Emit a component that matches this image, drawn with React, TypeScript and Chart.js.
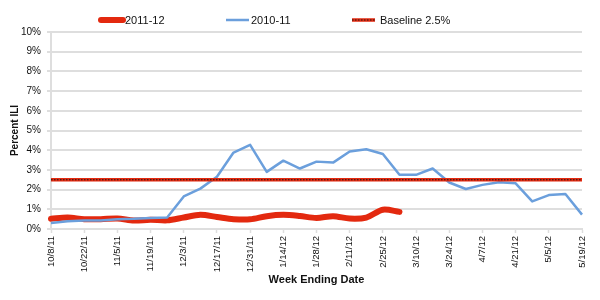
import { useEffect, useRef } from 'react';
import { Chart, registerables } from 'chart.js';

Chart.register(...registerables);

// Week ending dates, 2011-12 season
const weeks = [
  '10/8/11', '10/15/11', '10/22/11', '10/29/11', '11/5/11', '11/12/11', '11/19/11', '11/26/11',
  '12/3/11', '12/10/11', '12/17/11', '12/24/11', '12/31/11', '1/7/12', '1/14/12', '1/21/12',
  '1/28/12', '2/4/12', '2/11/12', '2/18/12', '2/25/12', '3/3/12', '3/10/12', '3/17/12',
  '3/24/12', '3/31/12', '4/7/12', '4/14/12', '4/21/12', '4/28/12', '5/5/12', '5/12/12', '5/19/12',
];

// Percent of visits for influenza-like illness
const season2011 = [
  0.52, 0.58, 0.5, 0.5, 0.53, 0.43, 0.47, 0.44, 0.58, 0.72, 0.61, 0.5, 0.49, 0.65, 0.72, 0.66,
  0.56, 0.65, 0.53, 0.58, 0.98, 0.87,
];
const season2010 = [
  0.3, 0.39, 0.43, 0.43, 0.5, 0.52, 0.56, 0.58, 1.65, 2.05, 2.65, 3.88, 4.27, 2.9, 3.47, 3.07,
  3.42, 3.37, 3.93, 4.05, 3.81, 2.75, 2.75, 3.07, 2.36, 2.03, 2.24, 2.37, 2.32, 1.4, 1.72, 1.78, 0.73,
];
const BASELINE = 2.5;
const baselineEnds = [weeks[0], weeks[weeks.length - 1]];

const RED = '#e3290f';
const BLUE = '#6b9fdc';
const GRID = '#dedede';
const FONT = '"Liberation Sans", Arial, sans-serif';

// Legend drawn as line samples followed by the series names
const lineLegend = {
  id: 'lineLegend',
  afterDraw(chart: any, _args: any, opts: any) {
    const { ctx } = chart;
    const y = opts.y;
    ctx.save();
    ctx.font = `11px ${FONT}`;
    ctx.textBaseline = 'middle';
    ctx.textAlign = 'left';
    for (const item of opts.items) {
      const ds = chart.data.datasets[item.dataset];
      ctx.beginPath();
      ctx.moveTo(item.x, y);
      ctx.lineTo(item.x + item.w, y);
      ctx.strokeStyle = ds.borderColor;
      ctx.lineWidth = ds.borderWidth;
      ctx.lineCap = ds.borderCapStyle || 'butt';
      ctx.setLineDash([]);
      ctx.stroke();
      if (item.overlay !== undefined) {
        const ov = chart.data.datasets[item.overlay];
        ctx.beginPath();
        ctx.moveTo(item.x, y);
        ctx.lineTo(item.x + item.w, y);
        ctx.strokeStyle = ov.borderColor;
        ctx.lineWidth = ov.borderWidth;
        ctx.lineCap = 'butt';
        ctx.setLineDash(ov.borderDash);
        ctx.stroke();
        ctx.setLineDash([]);
      }
      ctx.fillStyle = '#111';
      ctx.fillText(ds.label, item.x + item.w + item.gap, y + 0.5);
    }
    ctx.restore();
  },
};

export default function App() {
  const canvasRef = useRef<HTMLCanvasElement | null>(null);

  useEffect(() => {
    document.body.style.margin = '0';
    const canvas = canvasRef.current;
    if (!canvas) return;

    const chart = new Chart(canvas, {
      type: 'line',
      data: {
        labels: weeks,
        datasets: [
          {
            label: '2011-12',
            data: season2011,
            borderColor: RED,
            backgroundColor: RED,
            borderWidth: 6,
            borderCapStyle: 'round',
            borderJoinStyle: 'round',
            tension: 0.3,
            pointRadius: 0,
            order: 4,
          },
          {
            label: '2010-11',
            data: season2010,
            borderColor: BLUE,
            backgroundColor: BLUE,
            borderWidth: 2.5,
            borderJoinStyle: 'round',
            tension: 0,
            pointRadius: 0,
            order: 3,
          },
          {
            label: 'Baseline 2.5%',
            data: baselineEnds.map((w) => ({ x: w, y: BASELINE })),
            borderColor: RED,
            backgroundColor: RED,
            borderWidth: 3.5,
            pointRadius: 0,
            order: 2,
          },
          {
            label: 'Baseline dots',
            data: baselineEnds.map((w) => ({ x: w, y: BASELINE })),
            borderColor: '#1a1a1a',
            borderWidth: 1.2,
            borderDash: [1.5, 1.5],
            pointRadius: 0,
            order: 1,
          },
        ],
      },
      options: {
        responsive: false,
        animation: false,
        events: [],
        layout: { padding: { top: 32, right: 18, left: 0, bottom: 0 } },
        plugins: {
          legend: { display: false },
          tooltip: { enabled: false },
          lineLegend: {
            y: 20,
            items: [
              { dataset: 0, x: 101, w: 22, gap: 2 },
              { dataset: 1, x: 226, w: 23, gap: 2 },
              { dataset: 2, overlay: 3, x: 352, w: 23, gap: 5 },
            ],
          },
        } as any,
        scales: {
          x: {
            type: 'category',
            offset: false,
            afterFit: (scale: any) => {
              scale.height = 71;
            },
            border: { display: true, color: GRID, width: 2 },
            grid: {
              drawOnChartArea: false,
              drawTicks: true,
              tickLength: 4,
              tickWidth: 1.5,
              tickColor: (ctx: any) => (ctx.index % 2 === 0 ? GRID : 'transparent'),
            },
            ticks: {
              autoSkip: false,
              minRotation: 90,
              maxRotation: 90,
              padding: 3,
              color: '#111',
              font: { family: FONT, size: 9.5 },
              callback: (_v: any, i: number) => (i % 2 === 0 ? weeks[i] : ''),
            },
            title: {
              display: true,
              text: 'Week Ending Date',
              color: '#111',
              font: { family: FONT, size: 11, weight: 'bold' },
              padding: { top: 2, bottom: 13 },
            },
          },
          y: {
            min: 0,
            max: 10,
            afterFit: (scale: any) => {
              scale.width = 51;
            },
            border: { display: true, color: GRID, width: 2 },
            grid: {
              color: GRID,
              lineWidth: 2,
              tickLength: 4,
            },
            ticks: {
              stepSize: 1,
              padding: 6,
              color: '#111',
              font: { family: FONT, size: 10 },
              callback: (v: any) => `${v}%`,
            },
            title: {
              display: true,
              text: 'Percent ILI',
              color: '#111',
              font: { family: FONT, size: 10, weight: 'bold' },
              padding: { top: 9, bottom: 0 },
            },
          },
        },
      },
      plugins: [lineLegend],
    } as any);

    return () => chart.destroy();
  }, []);

  return (
    <div style={{ width: 600, height: 300 }}>
      <canvas ref={canvasRef} width={600} height={300} style={{ display: 'block' }} />
    </div>
  );
}
